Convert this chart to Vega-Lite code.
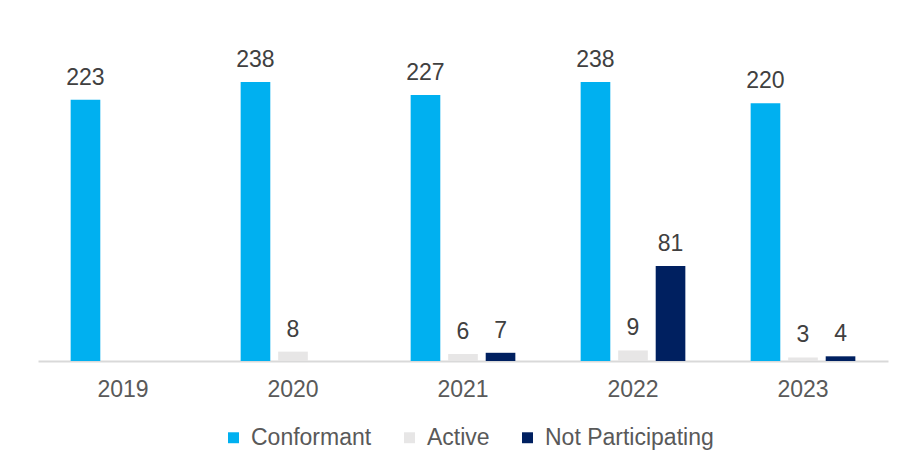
{
  "$schema": "https://vega.github.io/schema/vega-lite/v6.json",
  "autosize": {"type": "none"},
  "width": 850,
  "height": 293,
  "padding": {"left": 38, "top": 68, "right": 24, "bottom": 109},
  "background": "white",
  "data": {"values": [
    {"year": "2019", "series": "Conformant", "value": 223},
    {"year": "2020", "series": "Conformant", "value": 238},
    {"year": "2020", "series": "Active", "value": 8},
    {"year": "2021", "series": "Conformant", "value": 227},
    {"year": "2021", "series": "Active", "value": 6},
    {"year": "2021", "series": "Not Participating", "value": 7},
    {"year": "2022", "series": "Conformant", "value": 238},
    {"year": "2022", "series": "Active", "value": 9},
    {"year": "2022", "series": "Not Participating", "value": 81},
    {"year": "2023", "series": "Conformant", "value": 220},
    {"year": "2023", "series": "Active", "value": 3},
    {"year": "2023", "series": "Not Participating", "value": 4}
  ]},
  "encoding": {
    "x": {"field": "year", "type": "nominal", "title": null,
      "scale": {"paddingInner": 0.34, "paddingOuter": 0.17},
      "axis": {"labelAngle": 0, "ticks": false, "domainColor": "#D9D9D9", "domainWidth": 2, "labelFont": "Liberation Sans", "labelFontSize": 23, "labelColor": "#595959", "labelPadding": 17}},
    "xOffset": {"field": "series", "type": "nominal", "sort": ["Conformant", "Active", "Not Participating"], "scale": {"domain": ["Conformant", "Active", "Not Participating"], "paddingInner": 0.21, "paddingOuter": 0.1}},
    "y": {"field": "value", "type": "quantitative", "scale": {"domain": [0, 250]}, "axis": null}
  },
  "layer": [
    {"mark": {"type": "bar"},
      "encoding": {
        "color": {"field": "series", "type": "nominal", "title": null,
          "scale": {"domain": ["Conformant", "Active", "Not Participating"], "range": ["#00B0F0", "#E7E6E6", "#002060"]},
          "legend": {"orient": "none", "legendX": 184, "legendY": 358, "direction": "horizontal", "symbolType": "square", "symbolSize": 120, "symbolStrokeWidth": 0, "labelFont": "Liberation Sans", "labelFontSize": 23, "labelColor": "#595959", "labelOffset": 6, "labelLimit": 0, "columnPadding": 26}}
      }},
    {"mark": {"type": "text", "baseline": "bottom", "dy": -10, "font": "Liberation Sans", "fontSize": 23, "color": "#404040"},
      "encoding": {"text": {"field": "value", "type": "quantitative"}}}
  ],
  "config": {"view": {"stroke": null}}
}
